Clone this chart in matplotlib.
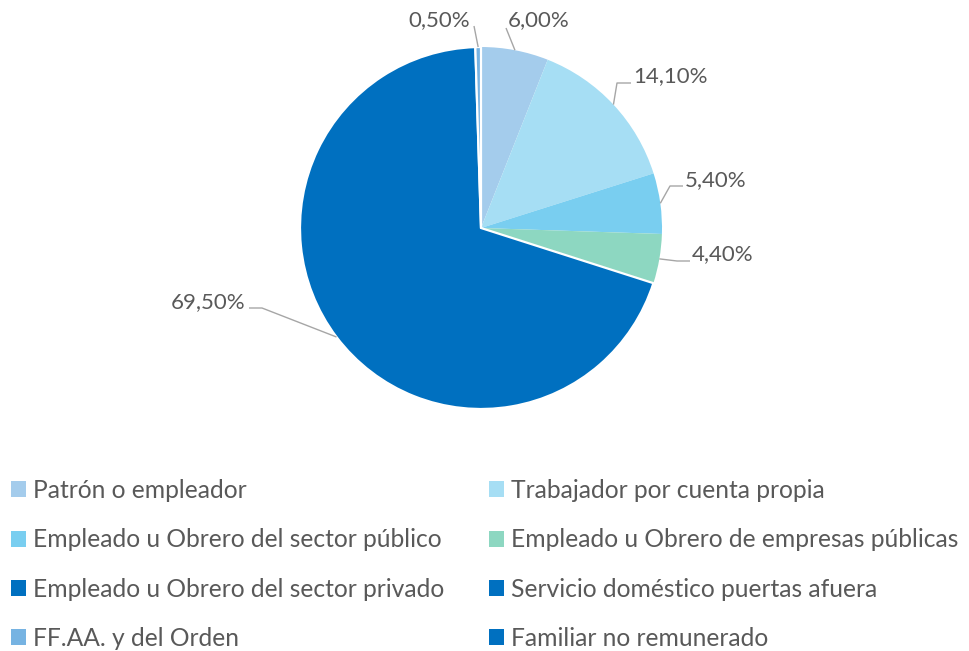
import numpy as np
import matplotlib
matplotlib.use("Agg")
import matplotlib.pyplot as plt
from matplotlib.patches import Patch

# Datos
categorias = [
    "Patrón o empleador",
    "Trabajador por cuenta propia",
    "Empleado u Obrero del sector público",
    "Empleado u Obrero de empresas públicas",
    "Empleado u Obrero del sector privado",
    "Servicio doméstico puertas afuera",
    "FF.AA. y del Orden",
    "Familiar no remunerado",
]
porcentajes = [6.00, 14.10, 5.40, 4.40, 69.50, 0.0, 0.50, 0.0]

# Estilo
colores = ["#A4CCEC", "#A6DEF4", "#79CEF0", "#8DD7C1",
           "#0070C0", "#0070C0", "#76B3E2", "#0070C0"]
bordes = [0, 0, 0, 0, 1.6, 0, 1.6, 0]
gris_txt = "#595959"
gris_linea = "#A6A6A6"
fuente = "Lato"
tam_etiq = 16
tam_ley = 17.7

W, H = 969, 651
CX, CY, R = 481, 228, 181


def px(x, y):
    return (x - CX) / R, (CY - y) / R


# posicion del texto (centro, en pixeles) y puntos del conector cerca del texto
pos_etiqueta = {
    0: (539, 20), 1: (670, 76), 2: (716, 180),
    3: (723, 254), 4: (208, 302), 6: (439, 20),
}
conector = {
    0: [(506, 28)],
    1: [(631, 83), (617, 83)],
    2: [(683, 186), (670, 186)],
    3: [(690, 261), (677, 261)],
    4: [(249, 308), (262, 308)],
    6: [(474, 26)],
}

fig = plt.figure(figsize=(W / 100, H / 100), dpi=100)
ax = fig.add_axes([0, 0, 1, 1])

wedges, _ = ax.pie(porcentajes, colors=colores, startangle=90, counterclock=False,
                   radius=1, center=(0, 0), frame=True)
ax.set_xlim(-CX / R, (W - CX) / R)
ax.set_ylim((CY - H) / R, CY / R)
ax.set_aspect("auto")
ax.axis("off")

for w, lw in zip(wedges, bordes):
    w.set_edgecolor("white")
    w.set_linewidth(lw)

for i, w in enumerate(wedges):
    if porcentajes[i] <= 0:
        continue
    ang = np.deg2rad((w.theta1 + w.theta2) / 2)
    punta = (np.cos(ang), np.sin(ang))
    pts = [px(*p) for p in conector[i]] + [punta]
    xs, ys = zip(*pts)
    ax.plot(xs, ys, color=gris_linea, lw=1, solid_capstyle="butt")
    tx, ty = px(*pos_etiqueta[i])
    txt = f"{porcentajes[i]:.2f}%".replace(".", ",")
    ax.text(tx, ty, txt, ha="center", va="center", fontsize=tam_etiq,
            color=gris_txt, family=fuente)

# leyenda en dos columnas, orden por filas
handles = [Patch(facecolor=c, edgecolor="none") for c in colores]
orden = [0, 2, 4, 6, 1, 3, 5, 7]
leg = fig.legend([handles[i] for i in orden], [categorias[i] for i in orden],
                 ncol=2, loc="upper left", bbox_to_anchor=(11 / W, 1 - 479 / H),
                 frameon=False, borderpad=0, borderaxespad=0,
                 handlelength=0.61, handleheight=0.61, handletextpad=0.28,
                 labelspacing=1.07, columnspacing=1.83,
                 prop={"family": fuente, "size": tam_ley})
for t in leg.get_texts():
    t.set_color(gris_txt)

fig.savefig("out.png", dpi=100, facecolor="white")
